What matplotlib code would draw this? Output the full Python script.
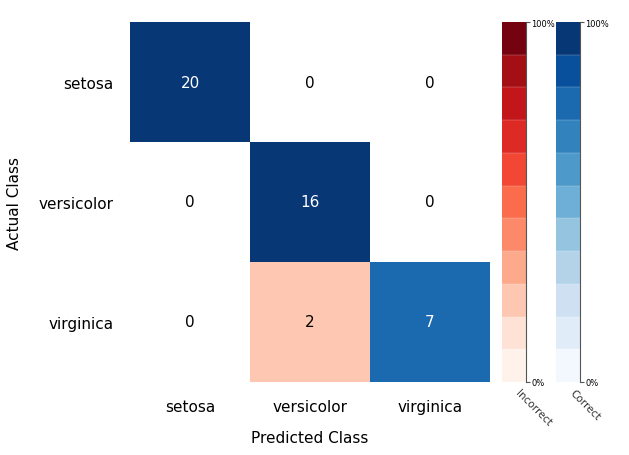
import numpy as np
import matplotlib
matplotlib.use("Agg")
import matplotlib.pyplot as plt

classes = ["setosa", "versicolor", "virginica"]
counts = [[20, 0, 0],
          [0, 16, 0],
          [0, 2, 7]]

W, H = 629, 456
fig = plt.figure(figsize=(W / 100, H / 100), dpi=100)

def px_axes(x0, y0, x1, y1):
    return fig.add_axes([x0 / W, 1 - y1 / H, (x1 - x0) / W, (y1 - y0) / H])

reds = [plt.cm.Reds(i / 10 * 0.95 + 0.02) for i in range(11)]
blues = [plt.cm.Blues(i / 10 * 0.95 + 0.02) for i in range(11)]

ax = px_axes(130, 23, 490, 383)
ax.set_xlim(0, 3)
ax.set_ylim(3, 0)
for r in range(3):
    total = sum(counts[r])
    for c in range(3):
        v = counts[r][c]
        frac = v / total
        if v == 0:
            col = "white"
        else:
            idx = int(round(frac * 10))
            col = blues[idx] if r == c else reds[idx]
        ax.add_patch(plt.Rectangle((c, r), 1, 1, color=col, lw=0))
        tc = "white" if (v > 0 and frac > 0.6) else "black"
        ax.text(c + 0.5, r + 0.5, str(v), ha="center", va="center",
                fontsize=11, color=tc)
for s in ax.spines.values():
    s.set_visible(False)
ax.set_xticks([0.5, 1.5, 2.5])
ax.set_xticklabels(classes, fontsize=11)
ax.set_yticks([0.5, 1.5, 2.5])
ax.set_yticklabels(classes, fontsize=11)
ax.tick_params(length=0, pad=12)
ax.set_xlabel("Predicted Class", fontsize=11, labelpad=12)
ax.set_ylabel("Actual Class", fontsize=11, labelpad=12)

for x0, pal, name in [(502, reds, "Incorrect"), (556, blues, "Correct")]:
    cax = px_axes(x0, 23, x0 + 24, 383)
    cax.set_xlim(0, 1)
    cax.set_ylim(0, 11)
    for i, col in enumerate(pal):
        cax.add_patch(plt.Rectangle((0, i), 1, 1, color=col, lw=0))
        cax.axhline(i, color="white", lw=0.3, alpha=0.5)
    for k, s in cax.spines.items():
        s.set_visible(k == "right")
    cax.spines["right"].set_color("#555555")
    cax.yaxis.tick_right()
    cax.set_yticks([0, 11])
    cax.set_yticklabels(["0%", "100%"], fontsize=6)
    cax.tick_params(axis="y", length=3, pad=1, color="#555555")
    cax.set_xticks([0.5])
    cax.set_xticklabels([name], rotation=-45, ha="left", fontsize=7.5,
                        color="#333333")
    cax.tick_params(axis="x", length=0, pad=4)

fig.savefig("out.png", dpi=100)
